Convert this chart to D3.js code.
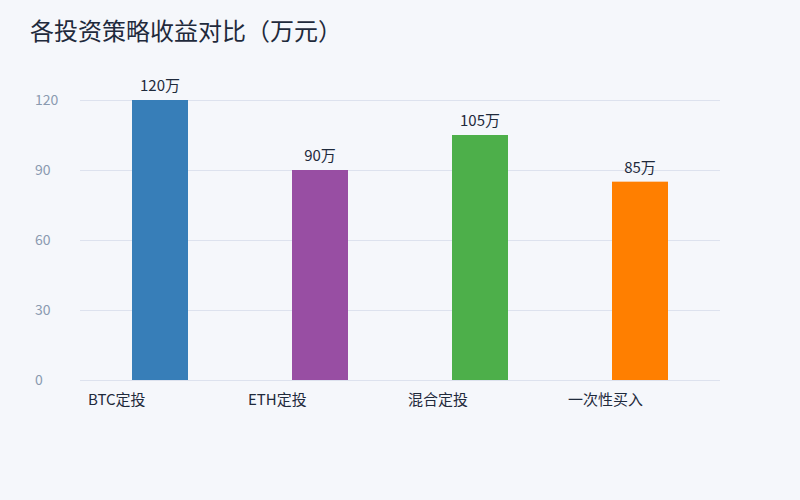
<!DOCTYPE html>
<html><head><meta charset="utf-8">
<script src="https://cdn.jsdelivr.net/npm/d3@7"></script>
<style>
html,body{margin:0;padding:0;background:#f5f7fb;}
svg{display:block;font-family:"Noto Sans CJK SC","Noto Sans",sans-serif;}
</style></head>
<body>
<svg id="chart" width="800" height="500"></svg>
<script>
const categories = ["BTC定投", "ETH定投", "混合定投", "一次性买入"];
const values = [120, 90, 105, 85];
const colors = ["#377eb8", "#984ea3", "#4daf4a", "#ff7f00"];
const yTicks = [0, 30, 60, 90, 120];
const title = "各投资策略收益对比（万元）";
const unit = "万";

const svg = d3.select("#chart");
svg.append("rect").attr("width", 800).attr("height", 500).attr("fill", "#f5f7fb");

const x = d3.scaleBand().domain(categories).range([80, 720]);
const y = d3.scaleLinear().domain([0, 120]).range([380, 100]);
const barW = 56;

svg.append("text").attr("x", 30).attr("y", 40)
  .attr("font-size", 24).attr("fill", "#1f2a3c").text(title);

// grid
svg.append("g").selectAll("line").data(yTicks).join("line")
  .attr("x1", 80).attr("x2", 720)
  .attr("y1", d => y(d) + 0.5).attr("y2", d => y(d) + 0.5)
  .attr("stroke", "#dde2ee").attr("stroke-width", 1);

// y labels
svg.append("g").selectAll("text").data(yTicks).join("text")
  .attr("x", 35).attr("y", d => y(d)).attr("dy", "0.35em")
  .attr("font-size", 14).attr("fill", "#8a9ab0").text(d => d);

// bars
svg.append("g").selectAll("rect").data(values).join("rect")
  .attr("x", (d, i) => x(categories[i]) + x.bandwidth() / 2 - barW / 2)
  .attr("width", barW)
  .attr("y", d => y(d)).attr("height", d => y(0) - y(d))
  .attr("fill", (d, i) => colors[i]);

// value labels
svg.append("g").selectAll("text").data(values).join("text")
  .attr("x", (d, i) => x(categories[i]) + x.bandwidth() / 2)
  .attr("y", d => y(d) - 9)
  .attr("text-anchor", "middle").attr("font-size", 15).attr("fill", "#1f2a3c")
  .text(d => d + unit);

// category labels
svg.append("g").selectAll("text").data(categories).join("text")
  .attr("x", d => x(d) + 8).attr("y", 405)
  .attr("font-size", 15).attr("fill", "#1f2a3c").text(d => d);
</script>
</body></html>
